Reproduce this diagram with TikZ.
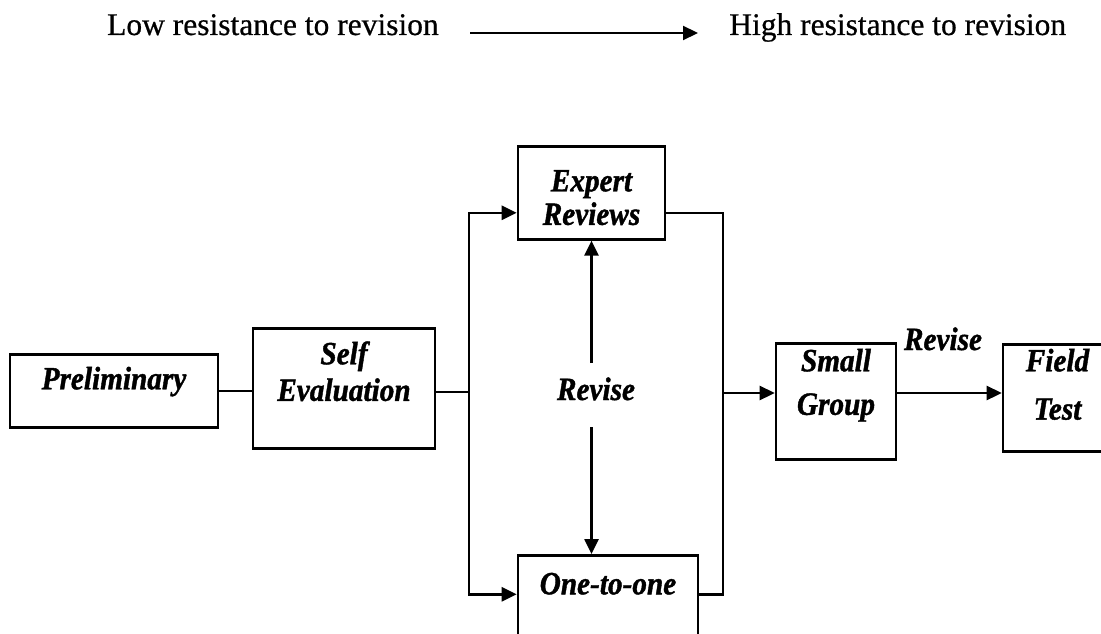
\documentclass[tikz,border=0pt]{standalone}
\usepackage{fontspec}
\setmainfont{Liberation Serif}[FakeBold=0.6]
\newfontfamily\stagefont{Liberation Serif}[FakeStretch=0.9, FakeBold=1.2]
\usetikzlibrary{arrows.meta}
\newcommand{\twoline}[3]{\begin{tabular}[t]{@{}c@{}}#1\\[#3]#2\end{tabular}}

\begin{document}
\begin{tikzpicture}[x=1pt, y=-1pt, line width=2.6pt,
  box/.style={draw, inner sep=0pt, anchor=north, font=\stagefont\fontsize{32.5}{30}\selectfont\bfseries\itshape},
  lbl/.style={inner sep=0pt, anchor=base, font=\stagefont\fontsize{32.5}{30}\selectfont\bfseries\itshape},
  toplbl/.style={inner sep=0pt, font=\fontsize{31.5}{36}\selectfont},
  arr/.style={-{Triangle[length=15pt,width=14pt]}}]
  \useasboundingbox (0,0) rectangle (1101,634);
  \clip (0,0) rectangle (1101,634);

  % resistance scale
  \node[toplbl, anchor=base east] (low) at (440,35) {Low resistance to revision};
  \node[toplbl, anchor=base west] (high) at (728,35) {High resistance to revision};
  \draw[arr, line width=2.2pt] ([xshift=30pt,yshift=2pt]low.base east) -- ([xshift=-30pt,yshift=2pt]high.base west);

  % stages
  \node[box, minimum width=208pt, text height=35pt, text depth=38pt] (prelim) at (114,353) {Preliminary};
  \node[box, minimum width=182pt, text height=36pt, text depth=84pt] (selfeval) at (344,327) {\twoline{Self}{Evaluation}{5pt}};
  \node[box, minimum width=147pt, text height=45pt, text depth=48pt] (expert) at (591.5,145) {\twoline{Expert}{Reviews}{2pt}};
  \node[box, minimum width=180pt, text height=39pt, text depth=90pt] (onetoone) at (608,554) {One-to-one};
  \node[box, minimum width=120pt, text height=28pt, text depth=88pt] (smallgroup) at (836,342) {\twoline{Small}{Group}{13pt}};
  \node[box, minimum width=109pt, text height=27pt, text depth=80pt] (field) at (1057.5,343) {\twoline{Field}{Test}{18pt}};

  \node[lbl] (revise) at (596,400) {Revise};
  \node[lbl] (revisefield) at (943,350) {Revise};

  \coordinate (busL) at (469,392);
  \coordinate (busR) at (723,393);
  \coordinate (revmid) at (expert.south |- revise.base);

  \draw (prelim.east) -- (prelim.east -| selfeval.west);
  \draw (selfeval.east |- busL) -- (busL);
  \draw[arr] (busL) |- ([yshift=-20pt]expert.west);
  \draw[arr] (busL) |- (onetoone.base west);
  \draw ([yshift=-20pt]expert.east) -| (busR);
  \draw (onetoone.base east) -| (busR);
  \draw[arr] (busR) -- (busR -| smallgroup.west);
  \draw[arr] (smallgroup.east |- busR) -- (busR -| field.west);

  % revise loop
  \draw[arr] ([yshift=37pt]revmid) -- (expert.south);
  \draw[arr] ([yshift=-27pt]revmid) -- (revmid |- onetoone.north);
\end{tikzpicture}
\end{document}
